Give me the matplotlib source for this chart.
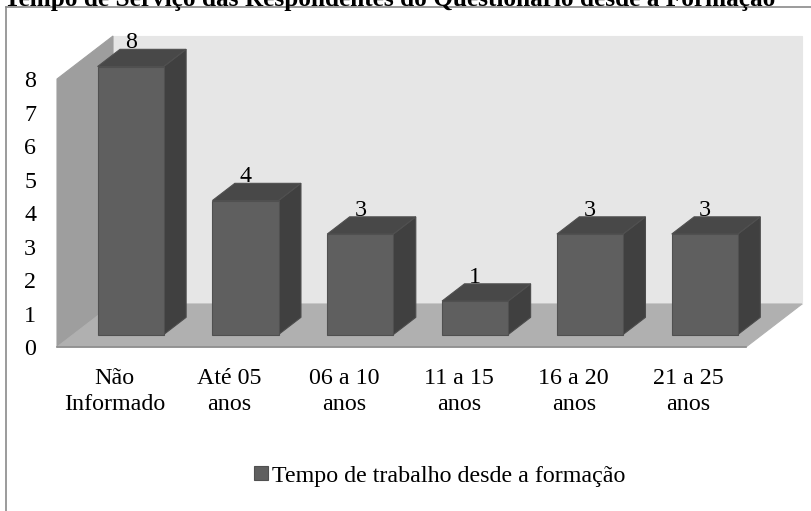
import numpy as np
from matplotlib import pyplot as plt
from matplotlib.patches import Polygon, Rectangle

plt.rcParams["font.family"] = ["Liberation Serif", "DejaVu Serif"]

# ------------------------------------------------
# Data
# ------------------------------------------------
categories = ["Não\nInformado", "Até 05\nanos", "06 a 10\nanos", "11 a 15\nanos", "16 a 20\nanos", "21 a 25\nanos"]
values = [8, 4, 3, 1, 3, 3]
y_ticks = [0, 1, 2, 3, 4, 5, 6, 7, 8]
title = "Tempo de Serviço das Respondentes do Questionário desde a Formação"
series_name = "Tempo de trabalho desde a formação"

# ------------------------------------------------
# Figure and axes (pixel layout of the plot box)
# ------------------------------------------------
W, H = 812, 511
fig = plt.figure(figsize=(W / 100, H / 100), dpi=100)
fig.patch.set_facecolor("white")

left, right, top, bottom = 57, 746, 79, 347
ax = fig.add_axes([left / W, 1 - bottom / H, (right - left) / W, (bottom - top) / H])
ax.set_xlim(0, len(categories))
ax.set_ylim(0, 8)
ax.patch.set_visible(False)
for s in ax.spines.values():
    s.set_visible(False)

# depth of the 3d box in data units
depth_x = 56 / ((right - left) / len(categories))
depth_y = 43 / ((bottom - top) / 8)


def proj(x, y, d):
    return (x + depth_x * d, y + depth_y * d)


def poly(pts, color, edge=None, z=1):
    ax.add_patch(Polygon(pts, closed=True, facecolor=color, edgecolor=edge or color,
                         linewidth=0.8, clip_on=False, zorder=z))


# walls and floor
n = len(categories)
poly([proj(0, 0, 1), proj(n, 0, 1), proj(n, 8, 1), proj(0, 8, 1)], "#e6e6e6", z=1)
poly([proj(0, 0, 0), proj(0, 0, 1), proj(0, 8, 1), proj(0, 8, 0)], "#9e9e9e", z=2)
poly([proj(0, 0, 0), proj(n, 0, 0), proj(n, 0, 1), proj(0, 0, 1)], "#b0b0b0", z=2)
ax.plot([0, n], [0, 0], color="#8c8c8c", lw=1.2, clip_on=False, zorder=3)

# bars
d0, d1 = 0.29, 0.69
half = 0.288
for i, v in enumerate(values):
    xa, xb = i + 0.5 - half, i + 0.5 + half
    poly([proj(xb, 0, d0), proj(xb, 0, d1), proj(xb, v, d1), proj(xb, v, d0)], "#404040", "#4c4c4c", z=4)
    poly([proj(xa, v, d0), proj(xb, v, d0), proj(xb, v, d1), proj(xa, v, d1)], "#484848", "#505050", z=4)
    poly([proj(xa, 0, d0), proj(xb, 0, d0), proj(xb, v, d0), proj(xa, v, d0)], "#5f5f5f", "#505050", z=5)
    lx = proj(i + 0.5, v, d0)[0]
    ly = proj(i + 0.5, v, d1)[1]
    ax.text(lx, ly - 0.12, str(v), ha="center", va="bottom", fontsize=17.3, color="black", zorder=6)

# axes text
ax.set_xticks(np.arange(n) + 0.5)
ax.set_xticklabels(categories, fontsize=17.3, linespacing=1.32)
ax.set_yticks(y_ticks)
ax.set_yticklabels([str(t) for t in y_ticks], fontsize=17.3)
ax.tick_params(axis="both", length=0)
ax.tick_params(axis="x", pad=15)
ax.tick_params(axis="y", pad=15)

# legend
handle = Rectangle((0, 0), 1, 1, facecolor="#5f5f5f", edgecolor="#505050", linewidth=0.8)
fig.legend([handle], [series_name], loc="center", bbox_to_anchor=(440 / W, 1 - 476 / H),
           frameon=False, fontsize=17.3, handlelength=0.55, handleheight=0.55, handletextpad=0.2,
           borderpad=0, borderaxespad=0)

# outer frame and cropped title
fig.add_artist(plt.Line2D([5.5 / W, 5.5 / W], [0, 1 - 7 / H], color="#8a8a8a", lw=1.2))
fig.add_artist(plt.Line2D([5.5 / W, 1], [1 - 7 / H, 1 - 7 / H], color="#8a8a8a", lw=1.2))
fig.text(390 / W, 1 + 1 / H, title, ha="center", va="center", fontsize=18.2, fontweight="bold")

fig.savefig("out.png", dpi=100)
plt.close(fig)
